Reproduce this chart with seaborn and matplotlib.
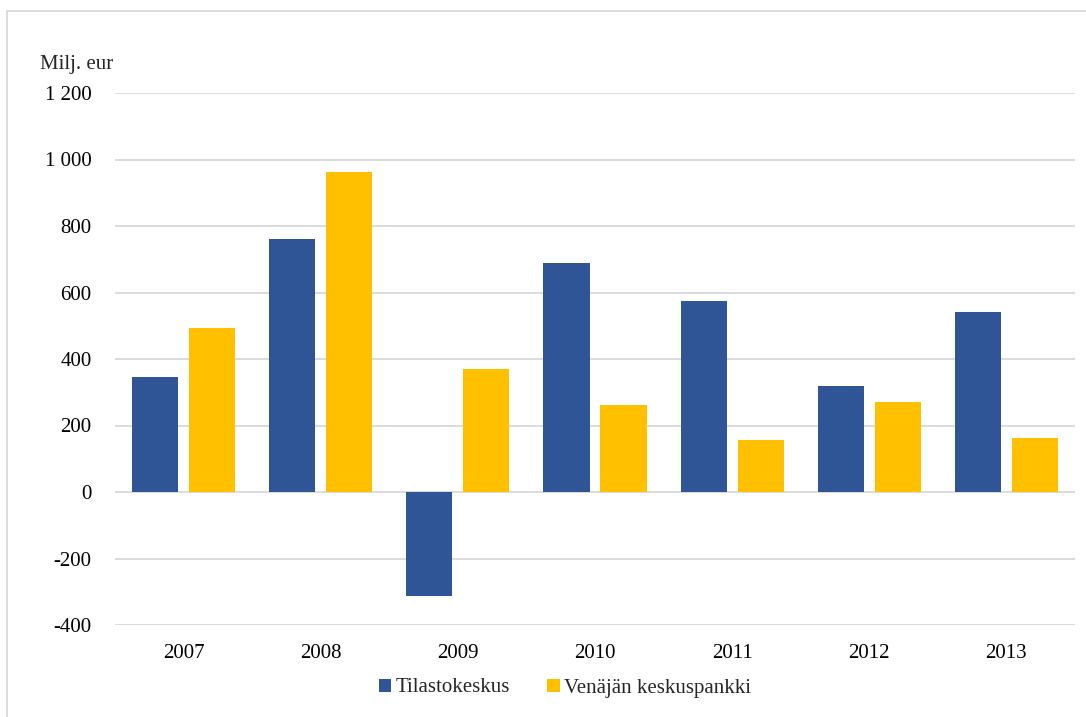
import matplotlib.pyplot as plt
from matplotlib.patches import Rectangle
import pandas as pd
import seaborn as sns

# Values (milj. eur)
years = ['2007', '2008', '2009', '2010', '2011', '2012', '2013']
tilastokeskus = [346, 762, -313, 690, 575, 319, 542]
keskuspankki = [494, 961, 371, 263, 157, 272, 163]
series_names = ['Tilastokeskus', 'Venäjän keskuspankki']
y_ticks = [-400, -200, 0, 200, 400, 600, 800, 1000, 1200]

data = pd.DataFrame({
    'Vuosi': years * 2,
    'Arvo': tilastokeskus + keskuspankki,
    'Lähde': [series_names[0]] * len(years) + [series_names[1]] * len(years),
})

sns.set_style("white")
plt.rcParams['font.family'] = ['Liberation Serif', 'DejaVu Serif']
fs = 15

fig = plt.figure(figsize=(10.86, 7.17), dpi=100)
W, H = 1086, 717
ax = fig.add_axes([115 / W, 1 - 625 / H, (1075 - 115) / W, (625 - 93) / H])

sns.barplot(data=data, x='Vuosi', y='Arvo', hue='Lähde', ax=ax,
            palette=['#2F5597', '#FFC000'], width=0.83, gap=0.19,
            saturation=1, errorbar=None, legend=True, linewidth=0)

ax.set_ylim(-400, 1200)
ax.set_xlim(-0.5, len(years) - 0.5)
ax.set_yticks(y_ticks)
ax.set_yticklabels([f'{v:,}'.replace(',', ' ') for v in y_ticks])
ax.yaxis.grid(True, color='#D9D9D9', linewidth=1.3)
ax.set_axisbelow(True)
for s in ax.spines.values():
    s.set_visible(False)
ax.tick_params(axis='both', length=0, labelsize=fs, colors='#000000')
ax.tick_params(axis='y', pad=17)
ax.tick_params(axis='x', pad=14)
ax.set_xlabel('')
ax.set_ylabel('')

# Unit label above the y axis
fig.text(40 / W, 1 - 64 / H, 'Milj. eur', fontsize=fs, va='center', ha='left')

# Legend below the plot
handles, labels = ax.get_legend_handles_labels()
ax.legend(handles, labels, loc='center', bbox_to_anchor=(565 / W, 1 - 688 / H),
          bbox_transform=fig.transFigure, ncol=2, frameon=False,
          fontsize=fs, handlelength=0.6, handleheight=0.6,
          handletextpad=0.2, columnspacing=1.8, borderpad=0)

# Chart frame
fig.patches.append(Rectangle((7 / W, -0.1), 1.2, 1 - 11 / H + 0.1,
                             transform=fig.transFigure, fill=False,
                             edgecolor='#D9D9D9', linewidth=1.3))

fig.savefig('out.png', dpi=100)
